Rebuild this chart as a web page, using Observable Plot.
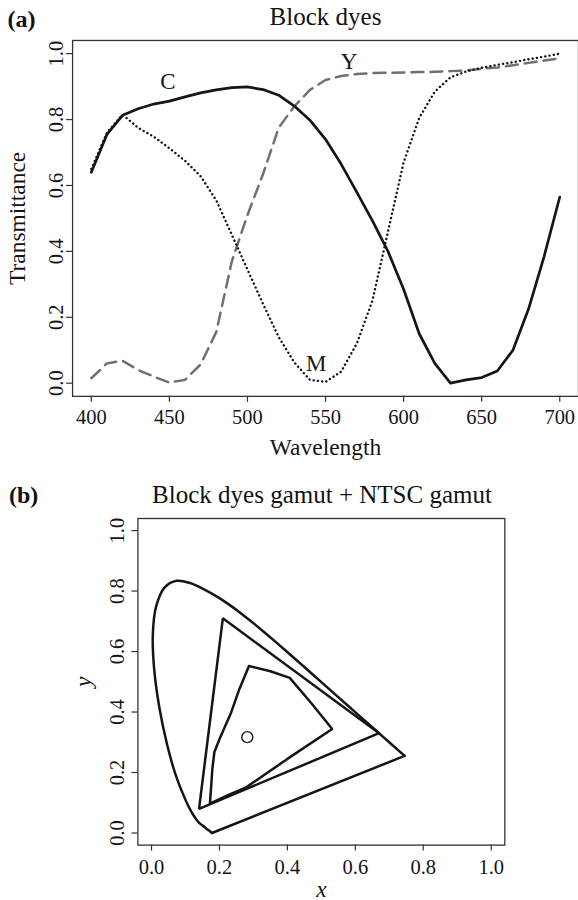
<!DOCTYPE html>
<html>
<head>
<meta charset="utf-8">
<script src="https://cdn.jsdelivr.net/npm/d3@7"></script>
<script src="https://cdn.jsdelivr.net/npm/@observablehq/plot@0.6"></script>
<style>
  html, body { margin: 0; padding: 0; background: #fff; overflow: hidden; }
  #wrap { position: relative; width: 578px; height: 900px; font-family: "Liberation Serif", "Times New Roman", serif; color: #111; }
  .t { position: absolute; font-size: 25px; line-height: 24px; white-space: nowrap; }
  .tag { font-weight: bold; font-size: 24px; }
  .ttl { width: 460px; text-align: center; }
  .panel { position: absolute; left: 0; }
</style>
</head>
<body>
<div id="wrap"></div>
<script>
// ---------- Panel (a): transmittance of block dyes ----------
const wavelengths = [400,410,420,430,440,450,460,470,480,490,500,510,520,530,540,550,560,570,580,590,600,610,620,630,640,650,660,670,680,690,700];
const cyanT    = [0.640,0.755,0.813,0.833,0.847,0.856,0.869,0.881,0.890,0.897,0.899,0.891,0.874,0.841,0.798,0.740,0.665,0.580,0.493,0.400,0.285,0.150,0.060,0.000,0.010,0.017,0.037,0.100,0.225,0.385,0.565];
const magentaT = [0.650,0.760,0.815,0.775,0.748,0.713,0.675,0.628,0.555,0.450,0.345,0.240,0.140,0.063,0.010,0.004,0.035,0.120,0.250,0.460,0.670,0.805,0.885,0.928,0.946,0.957,0.966,0.974,0.983,0.991,1.000];
const yellowT  = [0.015,0.060,0.068,0.040,0.020,0.002,0.010,0.057,0.155,0.370,0.510,0.635,0.775,0.840,0.890,0.920,0.932,0.938,0.941,0.942,0.943,0.944,0.945,0.947,0.949,0.954,0.958,0.965,0.972,0.979,0.986];
const xTicksA = [400,450,500,550,600,650,700];
const yTicksA = [0,0.2,0.4,0.6,0.8,1.0];
const curveNames = ["C","M","Y"];
const curveLabelW = [449,544,565];
const curveLabelT = [0.914,0.060,0.975];

// ---------- Panel (b): chromaticity diagram ----------
const locusX = [0.178,0.172,0.164,0.157,0.144,0.1355,0.1241,0.1096,0.0913,0.0687,0.0454,0.0235,0.0082,0.0039,0.0139,0.0389,0.0743,0.1142,0.1547,0.1929,0.2296,0.2658,0.3016,0.3373,0.3731,0.4087,0.4441,0.4788,0.5125,0.5448,0.5752,0.6029,0.6270,0.6482,0.6658,0.6801,0.6915,0.7006,0.7079,0.7190,0.7260,0.7300,0.7347,0.745];
const locusY = [0.000,0.006,0.012,0.019,0.030,0.0399,0.0578,0.0868,0.1327,0.2007,0.2950,0.4127,0.5384,0.6548,0.7502,0.8120,0.8338,0.8262,0.8059,0.7816,0.7543,0.7243,0.6923,0.6589,0.6245,0.5896,0.5547,0.5202,0.4866,0.4544,0.4242,0.3965,0.3725,0.3514,0.3340,0.3197,0.3083,0.2993,0.2920,0.2809,0.2740,0.2700,0.2653,0.255];
const ntscX = [0.67,0.21,0.14];
const ntscY = [0.33,0.71,0.08];
const dyeGamutX = [0.287,0.350,0.407,0.470,0.532,0.400,0.280,0.225,0.172,0.176,0.179,0.185,0.200,0.233,0.257];
const dyeGamutY = [0.552,0.535,0.513,0.430,0.344,0.245,0.152,0.125,0.097,0.160,0.210,0.267,0.310,0.394,0.471];
const whiteX = [0.282];
const whiteY = [0.317];
const ticks01 = [0,0.2,0.4,0.6,0.8,1.0];

// ---------- build ----------
const ink = "#151515";
const frameCol = "#333";
const serif = "'Liberation Serif','Times New Roman',serif";
const pts = (xs, ys) => xs.map((x, i) => ({x, y: ys[i]}));
const closed = (xs, ys) => pts(xs.concat([xs[0]]), ys.concat([ys[0]]));

const spec = wavelengths.map((w, i) => ({w, c: cyanT[i], m: magentaT[i], y: yellowT[i]}));
const curveLabels = curveNames.map((n, i) => ({n, w: curveLabelW[i], t: curveLabelT[i]}));
const locusPts = pts(locusX, locusY);
const purpleLine = [locusPts[locusPts.length - 1], locusPts[0]];

const chartA = Plot.plot({
  width: 579, height: 440,
  marginTop: 10, marginBottom: 73.5, marginLeft: 72.2, marginRight: 0,
  x: {domain: [388, 712]},
  y: {domain: [-0.04, 1.04]},
  style: {fontFamily: serif, fontSize: "20px", color: ink, background: "transparent", overflow: "visible"},
  marks: [
    Plot.frame({stroke: frameCol, strokeWidth: 1.3}),
    Plot.axisX({ticks: xTicksA, tickSize: 6, fill: "none", label: null, stroke: frameCol, strokeWidth: 1.2}),
    Plot.axisY({ticks: yTicksA, tickSize: 6, fill: "none", label: null, stroke: frameCol, strokeWidth: 1.2}),
    Plot.text(xTicksA, {x: d => d, text: d => String(d), frameAnchor: "bottom", dy: 21.5, textAnchor: "middle", lineAnchor: "middle", fontSize: 20.5, fill: ink}),
    Plot.text(yTicksA, {y: d => d, text: d => d.toFixed(1), frameAnchor: "left", dx: -16, rotate: -90, textAnchor: "middle", lineAnchor: "middle", fontSize: 20.5, fill: ink}),
    Plot.text(["Wavelength"], {text: d => d, frameAnchor: "bottom", dy: 51.5, textAnchor: "middle", lineAnchor: "middle", fontSize: 23.5, fill: ink}),
    Plot.text(["Transmittance"], {text: d => d, frameAnchor: "left", dx: -54.7, rotate: -90, textAnchor: "middle", lineAnchor: "middle", fontSize: 23.5, fill: ink}),
    Plot.line(spec, {x: "w", y: "y", stroke: "#707070", strokeWidth: 2.5, strokeDasharray: "12,7"}),
    Plot.line(spec, {x: "w", y: "m", stroke: ink, strokeWidth: 2.4, strokeDasharray: "0.1,4.2", strokeLinecap: "round"}),
    Plot.line(spec, {x: "w", y: "c", stroke: ink, strokeWidth: 2.7}),
    Plot.text(curveLabels, {x: "w", y: "t", text: "n", fontSize: 23, fill: ink, textAnchor: "middle", lineAnchor: "middle"})
  ]
});

const chartB = Plot.plot({
  width: 578, height: 390,
  marginTop: 8, marginBottom: 55.4, marginLeft: 137.4, marginRight: 73.7,
  x: {domain: [-0.04, 1.04]},
  y: {domain: [-0.04, 1.04]},
  style: {fontFamily: serif, fontSize: "20px", color: ink, background: "transparent", overflow: "visible"},
  marks: [
    Plot.frame({stroke: frameCol, strokeWidth: 1.3}),
    Plot.axisX({ticks: ticks01, tickSize: 6, fill: "none", label: null, stroke: frameCol, strokeWidth: 1.2}),
    Plot.axisY({ticks: ticks01, tickSize: 6, fill: "none", label: null, stroke: frameCol, strokeWidth: 1.2}),
    Plot.text(ticks01, {x: d => d, text: d => d.toFixed(1), frameAnchor: "bottom", dy: 22, textAnchor: "middle", lineAnchor: "middle", fontSize: 20.5, fill: ink}),
    Plot.text(ticks01, {y: d => d, text: d => d.toFixed(1), frameAnchor: "left", dx: -20.7, rotate: -90, textAnchor: "middle", lineAnchor: "middle", fontSize: 20.5, fill: ink}),
    Plot.text(["x"], {text: d => d, frameAnchor: "bottom", dy: 44, textAnchor: "middle", lineAnchor: "middle", fontSize: 23.5, fontStyle: "italic", fill: ink}),
    Plot.text(["y"], {text: d => d, frameAnchor: "left", dx: -54, rotate: -90, textAnchor: "middle", lineAnchor: "middle", fontSize: 23.5, fontStyle: "italic", fill: ink}),
    Plot.line(locusPts, {x: "x", y: "y", stroke: ink, strokeWidth: 2.5, curve: "catmull-rom"}),
    Plot.line(purpleLine, {x: "x", y: "y", stroke: ink, strokeWidth: 2.5}),
    Plot.line(closed(ntscX, ntscY), {x: "x", y: "y", stroke: ink, strokeWidth: 2.5, strokeLinejoin: "miter"}),
    Plot.line(closed(dyeGamutX, dyeGamutY), {x: "x", y: "y", stroke: ink, strokeWidth: 2.5, strokeLinejoin: "miter"}),
    Plot.dot(pts(whiteX, whiteY), {x: "x", y: "y", r: 5.5, stroke: ink, strokeWidth: 1.4, fill: "none"})
  ]
});

const wrap = document.getElementById("wrap");
function addDiv(cls, text, left, top) {
  const d = document.createElement("div");
  d.className = cls;
  d.textContent = text;
  d.style.left = left + "px";
  d.style.top = top + "px";
  wrap.appendChild(d);
}
const pa = document.createElement("div"); pa.className = "panel"; pa.style.top = "30px"; pa.appendChild(chartA); wrap.appendChild(pa);
const pb = document.createElement("div"); pb.className = "panel"; pb.style.top = "510px"; pb.appendChild(chartB); wrap.appendChild(pb);
addDiv("t tag", "(a)", 7.4, 6.9);
addDiv("t ttl", "Block dyes", 325.5 - 230, 4.9);
addDiv("t tag", "(b)", 9, 483.2);
addDiv("t ttl", "Block dyes gamut + NTSC gamut", 322 - 230, 483.2);
</script>
</body>
</html>
